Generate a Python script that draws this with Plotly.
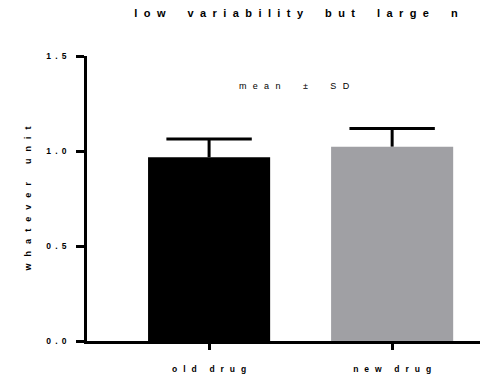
import plotly.graph_objects as go

# Group summary data
groups = ["old drug", "new drug"]
means = [0.967, 1.023]
sds = [0.096, 0.096]
bar_colors = ["#000000", "#a0a0a4"]
y_ticks = [0.0, 0.5, 1.0, 1.5]
y_tick_labels = ["0.0", "0.5", "1.0", "1.5"]


def spaced(s, gap="\u2002", word_gap=None):
    # widen letter spacing the way the original figure typesets it
    if word_gap is None:
        word_gap = gap * 3
    return word_gap.join(gap.join(w) for w in s.split(" "))


FONT = "Arial, Liberation Sans, sans-serif"
L, R, T, B = 87, 17, 56, 36
W, H = 497, 377
pw, ph = W - L - R, H - T - B

GAP = "\u2002\u200a"
WIDE = "\u2002\u2009"
WGAP = "\u2002\u2003\u2002"


def px_x(x):
    return (x - L) / pw


def px_y(y):
    return (H - B - y) / ph


fig = go.Figure()
fig.add_trace(go.Bar(
    x=list(range(len(groups))),
    y=means,
    width=0.667,
    marker=dict(color=bar_colors, line=dict(width=0)),
    error_y=dict(type="data", array=sds, arrayminus=[0] * len(sds), symmetric=False,
                 thickness=3, width=0, color="#000000"),
    showlegend=False,
))
# caps on the upper end of each SD whisker
fig.add_trace(go.Scatter(
    x=list(range(len(groups))),
    y=[m + s for m, s in zip(means, sds)],
    mode="markers",
    marker=dict(symbol="line-ew", size=61, line=dict(width=3, color="#000000")),
    showlegend=False, hoverinfo="skip",
))

fig.update_layout(
    width=W, height=H,
    margin=dict(l=L, r=R, t=T, b=B, autoexpand=False),
    plot_bgcolor="white", paper_bgcolor="white",
    font=dict(family=FONT, color="#000000"),
    title=dict(text="<b>" + spaced("low variability but large n", GAP, WGAP) + "</b>",
               x=296 / W, xanchor="center", y=1 - 13 / H, yanchor="middle",
               font=dict(size=11, family=FONT)),
    xaxis=dict(
        range=[-0.667, 1.48],
        automargin=False,
        tickmode="array",
        tickvals=list(range(len(groups))),
        ticktext=["<b>" + spaced(g, WIDE, "\u2002\u2003") + "</b>" for g in groups],
        tickfont=dict(size=8.5, family=FONT),
        showline=True, linecolor="#000000", linewidth=2.5,
        ticks="outside", ticklen=6, tickwidth=2.5, tickcolor="#000000",
        showgrid=False, zeroline=False,
        ticklabelstandoff=12,
    ),
    yaxis=dict(
        range=[0, 1.5],
        automargin=False,
        tickmode="array",
        tickvals=y_ticks,
        ticktext=["<b>" + spaced(t, "\u2002") + "</b>" for t in y_tick_labels],
        tickfont=dict(size=8.5, family=FONT),
        showline=True, linecolor="#000000", linewidth=2.5,
        ticks="outside", ticklen=8, tickwidth=2.5, tickcolor="#000000",
        showgrid=False, zeroline=False,
        ticklabelstandoff=8,
        title=dict(text="<b>" + spaced("whatever unit", "\u2002\u2009\u200a", WGAP) + "</b>",
                   font=dict(size=9, family=FONT), standoff=14),
    ),
    annotations=[dict(
        text=spaced("mean ± SD", WIDE, "\u2002\u2003\u2003"),
        x=px_x(294), y=px_y(86),
        xref="paper", yref="paper", showarrow=False,
        xanchor="center", yanchor="middle",
        font=dict(size=9, family=FONT),
    )],
)

fig.write_html("out.html")
